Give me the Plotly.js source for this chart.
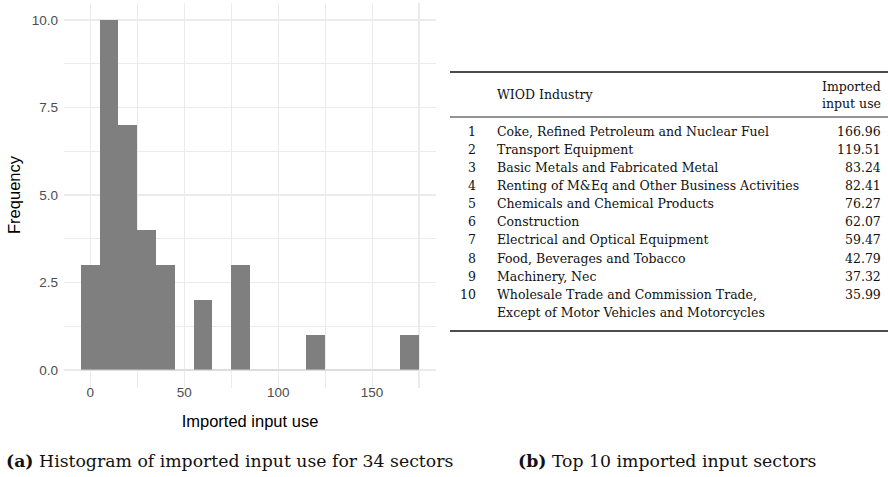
<!DOCTYPE html>
<html>
<head>
<meta charset="utf-8">
<script src="https://cdn.plot.ly/plotly-3.0.1.min.js"></script>
<style>html,body{margin:0;padding:0;background:#fff;}#chart{width:888px;height:477px;}</style>
</head>
<body>
<div id="chart"></div>
<script>
// ---- Histogram data (bins of width 10, centred on multiples of 10) ----
const binCenters = [0, 10, 20, 30, 40, 50, 60, 70, 80, 90, 100, 110, 120, 130, 140, 150, 160, 170];
const binCounts  = [3, 10, 7, 4, 3, 0, 2, 0, 3, 0, 0, 0, 1, 0, 0, 0, 0, 1];
const binWidth = 10;

// grid positions (major labelled, minor unlabelled)
const xTickVals = [0, 25, 50, 75, 100, 125, 150, 175];
const xTickText = ["0", "", "50", "", "100", "", "150", ""];
const yTickVals = [0, 1.25, 2.5, 3.75, 5, 6.25, 7.5, 8.75, 10];
const yTickText = ["0.0", "", "2.5", "", "5.0", "", "7.5", "", "10.0"];

// ---- Table data ----
const ranks = [1, 2, 3, 4, 5, 6, 7, 8, 9, 10];
const industries = [
  "Coke, Refined Petroleum and Nuclear Fuel",
  "Transport Equipment",
  "Basic Metals and Fabricated Metal",
  "Renting of M&amp;Eq and Other Business Activities",
  "Chemicals and Chemical Products",
  "Construction",
  "Electrical and Optical Equipment",
  "Food, Beverages and Tobacco",
  "Machinery, Nec",
  "Wholesale Trade and Commission Trade,<br>Except of Motor Vehicles and Motorcycles"
];
const importedUse = [166.96, 119.51, 83.24, 82.41, 76.27, 62.07, 59.47, 42.79, 37.32, 35.99];
const headerIndustry = "WIOD Industry";
const headerValue = "Imported<br>input use";
const captionA = "<b>(a)</b> Histogram of imported input use for 34 sectors";
const captionB = "<b>(b)</b> Top 10 imported input sectors";

// ---- Layout helpers (pixel geometry of the 888x477 canvas) ----
const W = 888, H = 477;
const py = p => 1 - p / H;
const rowPitch = 18.15, row1Px = 131;
const y2Range = [(H - row1Px) / rowPitch + 1, (0 - row1Px) / rowPitch + 1];
const pxToRow = p => (p - row1Px) / rowPitch + 1;

const serif = "DejaVu Serif, Liberation Serif, serif";
const sans = "Liberation Sans, Arial, Helvetica, sans-serif";
const tableSize = 12.5;
const tableFont = {family: serif, size: tableSize, color: "#111"};

const traces = [
  {
    type: "scatter", mode: "lines",
    x: [binCenters[0] - binWidth / 2, binCenters[binCenters.length - 1] + binWidth / 2],
    y: [0, 0],
    line: {color: "#CFCFCF", width: 1},
    hoverinfo: "skip", showlegend: false
  },
  {
    type: "bar",
    x: binCenters, y: binCounts, width: binWidth,
    marker: {color: "#7F7F7F", line: {width: 0}},
    showlegend: false
  }
];

const annotations = [];
const shapes = [];

// header
annotations.push({xref: "x2", yref: "y2", x: 495, y: pxToRow(94.5), text: headerIndustry,
  xanchor: "left", yanchor: "middle", showarrow: false, font: tableFont});
headerValue.split("<br>").forEach((ln, k) => {
  annotations.push({xref: "x2", yref: "y2", x: 883, y: pxToRow(86 + 17 * k), text: ln,
    xanchor: "right", yanchor: "middle", showarrow: false, font: tableFont});
});

ranks.forEach((r, i) => {
  const row = i + 1;
  annotations.push({xref: "x2", yref: "y2", x: 478, y: row, text: String(r),
    xanchor: "right", yanchor: "middle", showarrow: false, font: tableFont});
  industries[i].split("<br>").forEach((ln, k) => {
    annotations.push({xref: "x2", yref: "y2", x: 495, y: row + k, text: ln,
      xanchor: "left", yanchor: "middle", showarrow: false, font: tableFont});
  });
  annotations.push({xref: "x2", yref: "y2", x: 883, y: row, text: importedUse[i].toFixed(2),
    xanchor: "right", yanchor: "middle", showarrow: false, font: tableFont});
});

// booktabs-style rules
[[72, 1.5], [117, 0.9], [331, 1.7]].forEach(([p, w]) => {
  shapes.push({type: "line", xref: "x2", yref: "y2", x0: 450, x1: 888, y0: pxToRow(p), y1: pxToRow(p),
    line: {color: "#111", width: w}});
});

// captions
const capFont = {family: serif, size: 17.3, color: "#111"};
annotations.push({xref: "paper", yref: "paper", x: 4 / W, y: py(461), text: captionA,
  xanchor: "left", yanchor: "middle", showarrow: false, font: capFont});
annotations.push({xref: "paper", yref: "paper", x: 516 / W, y: py(461), text: captionB,
  xanchor: "left", yanchor: "middle", showarrow: false, font: capFont});

const layout = {
  width: W, height: H,
  margin: {l: 0, r: 0, t: 0, b: 0, pad: 0},
  paper_bgcolor: "#fff", plot_bgcolor: "rgba(0,0,0,0)",
  bargap: 0,
  showlegend: false,
  xaxis: {
    domain: [64 / W, 436 / W],
    range: [-14, 184],
    tickmode: "array", tickvals: xTickVals, ticktext: xTickText,
    ticks: "", showline: false, zeroline: false,
    showgrid: true, gridcolor: "#EBEBEB", gridwidth: 1.2,
    tickfont: {family: sans, size: 13.5, color: "#4D4D4D"},
    ticklabelstandoff: -5,
    title: {text: "Imported input use", font: {family: sans, size: 16.5, color: "#000"}, standoff: 16},
    automargin: false, fixedrange: true
  },
  yaxis: {
    domain: [py(387.5), py(2.5)],
    range: [-0.5, 10.5],
    tickmode: "array", tickvals: yTickVals, ticktext: yTickText,
    ticks: "", showline: false, zeroline: false,
    showgrid: true, gridcolor: "#EBEBEB", gridwidth: 1.2,
    tickfont: {family: sans, size: 13.5, color: "#4D4D4D"},
    ticklabelstandoff: 5,
    title: {text: "Frequency", font: {family: sans, size: 16.5, color: "#000"}, standoff: 6},
    automargin: false, fixedrange: true
  },
  xaxis2: {domain: [450 / W, 1], range: [450, W], anchor: "y2", visible: false, fixedrange: true},
  yaxis2: {domain: [0, 1], range: y2Range, anchor: "x2", visible: false, fixedrange: true},
  annotations: annotations,
  shapes: shapes
};

Plotly.newPlot("chart", traces, layout, {staticPlot: true, displayModeBar: false});
</script>
</body>
</html>
